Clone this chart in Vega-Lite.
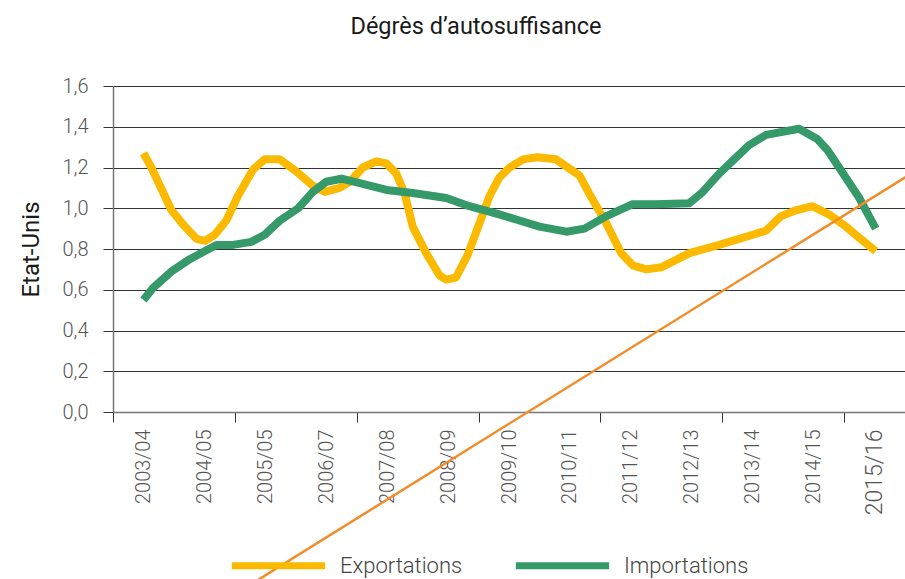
{
  "$schema": "https://vega.github.io/schema/vega-lite/v6.json",
  "width": 792,
  "height": 326,
  "autosize": "none",
  "padding": {"left": 113, "top": 86, "right": 0, "bottom": 167},
  "background": "white",
  "title": {"text": "Dégrès d’autosuffisance", "font": "Roboto", "fontSize": 23.5, "fontWeight": 400, "color": "#1a1a1a", "anchor": "middle", "dx": -33, "offset": 38},
  "config": {"view": {"stroke": null}, "font": "Roboto"},
  "layer": [
    {
      "data": {"values": [
        {"serie": "Exportations", "t": 0.0, "v": 1.27},
        {"serie": "Exportations", "t": 0.13, "v": 1.2},
        {"serie": "Exportations", "t": 0.46, "v": 0.99},
        {"serie": "Exportations", "t": 0.68, "v": 0.91},
        {"serie": "Exportations", "t": 0.87, "v": 0.85},
        {"serie": "Exportations", "t": 1.01, "v": 0.84},
        {"serie": "Exportations", "t": 1.17, "v": 0.87},
        {"serie": "Exportations", "t": 1.36, "v": 0.94},
        {"serie": "Exportations", "t": 1.55, "v": 1.06},
        {"serie": "Exportations", "t": 1.8, "v": 1.19},
        {"serie": "Exportations", "t": 1.99, "v": 1.24},
        {"serie": "Exportations", "t": 2.24, "v": 1.24},
        {"serie": "Exportations", "t": 2.51, "v": 1.18},
        {"serie": "Exportations", "t": 2.78, "v": 1.11},
        {"serie": "Exportations", "t": 2.98, "v": 1.08},
        {"serie": "Exportations", "t": 3.22, "v": 1.1},
        {"serie": "Exportations", "t": 3.39, "v": 1.13},
        {"serie": "Exportations", "t": 3.6, "v": 1.2},
        {"serie": "Exportations", "t": 3.82, "v": 1.23},
        {"serie": "Exportations", "t": 3.99, "v": 1.22},
        {"serie": "Exportations", "t": 4.15, "v": 1.17},
        {"serie": "Exportations", "t": 4.29, "v": 1.07},
        {"serie": "Exportations", "t": 4.42, "v": 0.91},
        {"serie": "Exportations", "t": 4.64, "v": 0.78},
        {"serie": "Exportations", "t": 4.86, "v": 0.67},
        {"serie": "Exportations", "t": 4.97, "v": 0.65},
        {"serie": "Exportations", "t": 5.13, "v": 0.66},
        {"serie": "Exportations", "t": 5.32, "v": 0.77},
        {"serie": "Exportations", "t": 5.52, "v": 0.93},
        {"serie": "Exportations", "t": 5.68, "v": 1.06},
        {"serie": "Exportations", "t": 5.84, "v": 1.15},
        {"serie": "Exportations", "t": 6.01, "v": 1.2},
        {"serie": "Exportations", "t": 6.23, "v": 1.24},
        {"serie": "Exportations", "t": 6.47, "v": 1.25},
        {"serie": "Exportations", "t": 6.77, "v": 1.24},
        {"serie": "Exportations", "t": 7.16, "v": 1.16},
        {"serie": "Exportations", "t": 7.32, "v": 1.07},
        {"serie": "Exportations", "t": 7.59, "v": 0.93},
        {"serie": "Exportations", "t": 7.84, "v": 0.78},
        {"serie": "Exportations", "t": 8.03, "v": 0.72},
        {"serie": "Exportations", "t": 8.25, "v": 0.7},
        {"serie": "Exportations", "t": 8.5, "v": 0.71},
        {"serie": "Exportations", "t": 8.96, "v": 0.78},
        {"serie": "Exportations", "t": 9.45, "v": 0.82},
        {"serie": "Exportations", "t": 10.0, "v": 0.87},
        {"serie": "Exportations", "t": 10.22, "v": 0.89},
        {"serie": "Exportations", "t": 10.46, "v": 0.96},
        {"serie": "Exportations", "t": 10.71, "v": 0.99},
        {"serie": "Exportations", "t": 10.98, "v": 1.01},
        {"serie": "Exportations", "t": 11.25, "v": 0.97},
        {"serie": "Exportations", "t": 11.53, "v": 0.91},
        {"serie": "Exportations", "t": 11.77, "v": 0.85},
        {"serie": "Exportations", "t": 12.02, "v": 0.79},
        {"serie": "Importations", "t": 0.0, "v": 0.55},
        {"serie": "Importations", "t": 0.16, "v": 0.61},
        {"serie": "Importations", "t": 0.46, "v": 0.69},
        {"serie": "Importations", "t": 0.76, "v": 0.75},
        {"serie": "Importations", "t": 1.01, "v": 0.79},
        {"serie": "Importations", "t": 1.2, "v": 0.82},
        {"serie": "Importations", "t": 1.47, "v": 0.82},
        {"serie": "Importations", "t": 1.77, "v": 0.835},
        {"serie": "Importations", "t": 1.99, "v": 0.87},
        {"serie": "Importations", "t": 2.24, "v": 0.94},
        {"serie": "Importations", "t": 2.54, "v": 1.0},
        {"serie": "Importations", "t": 2.78, "v": 1.08},
        {"serie": "Importations", "t": 3.0, "v": 1.13},
        {"serie": "Importations", "t": 3.25, "v": 1.145},
        {"serie": "Importations", "t": 3.6, "v": 1.12},
        {"serie": "Importations", "t": 3.99, "v": 1.09},
        {"serie": "Importations", "t": 4.42, "v": 1.075},
        {"serie": "Importations", "t": 4.97, "v": 1.05},
        {"serie": "Importations", "t": 5.35, "v": 1.01},
        {"serie": "Importations", "t": 5.84, "v": 0.97},
        {"serie": "Importations", "t": 6.17, "v": 0.94},
        {"serie": "Importations", "t": 6.5, "v": 0.91},
        {"serie": "Importations", "t": 6.94, "v": 0.885},
        {"serie": "Importations", "t": 7.24, "v": 0.9},
        {"serie": "Importations", "t": 7.59, "v": 0.96},
        {"serie": "Importations", "t": 8.03, "v": 1.02},
        {"serie": "Importations", "t": 8.41, "v": 1.02},
        {"serie": "Importations", "t": 8.96, "v": 1.025},
        {"serie": "Importations", "t": 9.18, "v": 1.08},
        {"serie": "Importations", "t": 9.45, "v": 1.17},
        {"serie": "Importations", "t": 9.94, "v": 1.31},
        {"serie": "Importations", "t": 10.22, "v": 1.36},
        {"serie": "Importations", "t": 10.76, "v": 1.39},
        {"serie": "Importations", "t": 11.06, "v": 1.34},
        {"serie": "Importations", "t": 11.23, "v": 1.285},
        {"serie": "Importations", "t": 11.75, "v": 1.05},
        {"serie": "Importations", "t": 12.02, "v": 0.9}
      ]},
      "mark": {"type": "line", "strokeWidth": 8, "strokeCap": "butt", "strokeJoin": "round"},
      "encoding": {
        "x": {
          "field": "t", "type": "quantitative",
          "scale": {"domain": [-0.5, 12.5], "nice": false, "zero": false},
          "axis": {
            "title": null,
            "values": [-0.5, 0, 1, 1.5, 2, 3, 3.5, 4, 5, 5.5, 6, 7, 7.5, 8, 9, 9.5, 10, 11, 11.5, 12],
            "labelExpr": "datum.value % 1 != 0 ? '' : ['2003/04','2004/05','2005/05','2006/07','2007/08','2008/09','2009/10','2010/11','2011/12','2012/13','2013/14','2014/15','2015/16'][datum.value]",
            "labelAngle": -90, "labelAlign": "right", "labelBaseline": "middle",
            "labelPadding": 7, "tickSize": 10, "tickColor": "#333", "tickWidth": 1,
            "tickOpacity": {"condition": {"test": "datum.value % 1 == 0", "value": 0}, "value": 1},
            "labelFont": "Roboto", "labelFontWeight": 300, "labelColor": "#555",
            "labelFontSize": {"condition": {"test": "datum.value == 12", "value": 23}, "value": 20},
            "labelOverlap": false, "labelFlush": false, "labelBound": false,
            "grid": false, "domainColor": "#777", "domainWidth": 1.5
          }
        },
        "y": {
          "field": "v", "type": "quantitative",
          "scale": {"domain": [0, 1.6], "nice": false},
          "axis": {
            "title": "Etat-Unis", "titleFont": "Roboto", "titleFontSize": 24, "titleFontWeight": 400, "titleColor": "#1a1a1a", "titlePadding": 18,
            "values": [0, 0.2, 0.4, 0.6, 0.8, 1.0, 1.2, 1.4, 1.6],
            "labelExpr": "replace(format(datum.value, '.1f'), '.', ',')",
            "labelFont": "Roboto", "labelFontWeight": 300, "labelFontSize": 20, "labelColor": "#555",
            "labelPadding": 15, "tickSize": 10, "tickColor": "#333",
            "grid": true, "gridColor": "#333", "gridWidth": 1,
            "domainColor": "#777", "domainWidth": 1.5
          }
        },
        "color": {
          "field": "serie", "type": "nominal",
          "scale": {"domain": ["Exportations", "Importations"], "range": ["#FBBA00", "#35996A"]},
          "legend": {
            "orient": "none", "legendX": 115, "legendY": 429, "direction": "horizontal", "title": null,
            "symbolType": "stroke", "symbolSize": 8700, "symbolStrokeWidth": 7,
            "labelFont": "Roboto", "labelFontSize": 22, "labelFontWeight": 300, "labelColor": "#444",
            "labelOffset": 11, "columnPadding": 38, "padding": 0, "labelLimit": 0
          }
        }
      }
    },
    {
      "data": {"values": [{"t": 1.58, "v": -0.88}, {"t": 12.6, "v": 1.17}]},
      "mark": {"type": "line", "color": "#F28C28", "strokeWidth": 2.5, "clip": false},
      "encoding": {
        "x": {"field": "t", "type": "quantitative", "scale": {"domain": [-0.5, 12.5], "nice": false, "zero": false}},
        "y": {"field": "v", "type": "quantitative", "scale": {"domain": [0, 1.6], "nice": false}}
      }
    }
  ]
}
